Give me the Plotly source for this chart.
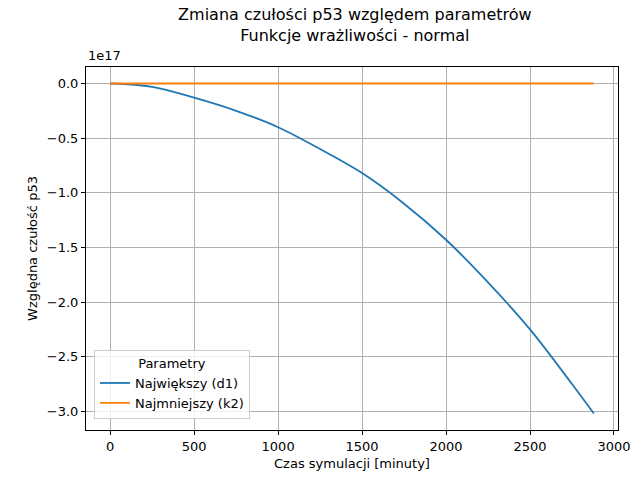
import plotly.graph_objects as go

# czas symulacji [min] i czułości (w jednostkach 1e17)
czas = [0, 250, 500, 750, 1000, 1250, 1500, 1750, 2000, 2250, 2500, 2750, 2880]
d1 = [0.0, -0.03, -0.13, -0.25, -0.40, -0.60, -0.82, -1.10, -1.43, -1.82, -2.25, -2.75, -3.02]
k2 = [0.0] * len(czas)

fig = go.Figure()
fig.add_trace(go.Scatter(x=czas, y=d1, mode="lines", name="Największy (d1)",
                         line=dict(color="#1f77b4", width=1.8, shape="spline", smoothing=1.0)))
fig.add_trace(go.Scatter(x=czas, y=k2, mode="lines", name="Najmniejszy (k2)",
                         line=dict(color="#ff7f0e", width=1.8)))

ax = dict(showline=True, linecolor="black", mirror=True, ticks="outside",
          ticklen=4, tickcolor="black", showgrid=True, gridcolor="#b0b0b0",
          zeroline=False, tickfont=dict(size=13, color="black"), automargin=False)

fig.update_layout(
    width=640, height=480, plot_bgcolor="white", paper_bgcolor="white",
    font=dict(family="DejaVu Sans", color="black"),
    margin=dict(l=78, r=30, t=59, b=58, autoexpand=False),
    title=dict(text="Zmiana czułości p53 względem parametrów<br>Funkcje wrażliwości - normal",
               x=0.542, xanchor="center", yref="container", y=0.975, yanchor="top",
               font=dict(size=16)),
    xaxis=dict(ax, range=[-144, 3024], tickvals=[0, 500, 1000, 1500, 2000, 2500, 3000],
               title=dict(text="Czas symulacji [minuty]", font=dict(size=13), standoff=6)),
    yaxis=dict(ax, range=[-3.171, 0.151], tickformat=".1f", dtick=0.5,
               title=dict(text="Względna czułość p53", font=dict(size=13), standoff=6)),
    legend=dict(x=0.015, y=0.03, xanchor="left", yanchor="bottom",
                bordercolor="#cccccc", borderwidth=1, bgcolor="rgba(255,255,255,0.8)",
                title=dict(text="Parametry", side="top center", font=dict(size=13)),
                font=dict(size=13)),
    showlegend=True,
)
fig.add_annotation(text="1e17", xref="paper", yref="paper", x=0, y=1.005,
                   xanchor="left", yanchor="bottom", showarrow=False, font=dict(size=13))

fig.write_html("out.html")
